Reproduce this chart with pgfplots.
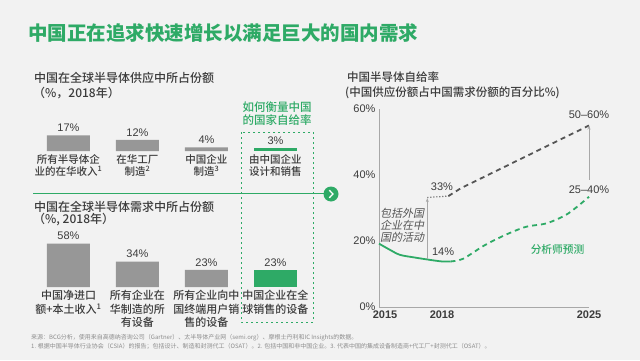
\documentclass[border=0pt]{standalone}
\usepackage{fontspec}
\usepackage{pgfplots}
\pgfplotsset{compat=1.18}
\usetikzlibrary{arrows.meta}
\setmainfont{Noto Sans CJK SC}
\newfontfamily\lat{Liberation Sans}
\newfontfamily\med{Noto Sans CJK SC Medium}
\newfontfamily\cjkit[FakeSlant=0.2]{Noto Sans CJK SC}
\definecolor{bg}{HTML}{F2F2F2}
\definecolor{grn}{HTML}{2EAA66}
\definecolor{bargray}{HTML}{979797}
\definecolor{txt}{HTML}{3C3C3C}
\definecolor{axgray}{HTML}{A8A8A8}
\definecolor{dgray}{HTML}{555555}
\definecolor{fgray}{HTML}{8C8C8C}

\begin{document}
\begin{tikzpicture}[x=1pt,y=1pt]
\fill[bg] (0,0) rectangle (640,360);
% main title
\node[anchor=west, text=grn, font=\fontsize{19.5}{22}\selectfont\bfseries, inner sep=0] at (28,327) {中国正在追求快速增长以满足巨大的国内需求};
% left titles
\node[anchor=west,inner sep=0,text=txt,font=\med\fontsize{12}{14}\selectfont] at (34,282) {中国在全球半导体供应中所占份额};
\node[anchor=west,inner sep=0,text=txt,font=\med\fontsize{12}{14}\selectfont] at (33,267) {（\%，2018年）};
\node[anchor=west,inner sep=0,text=txt,font=\med\fontsize{12}{14}\selectfont] at (34,153) {中国在全球半导体需求中所占份额};
\node[anchor=west,inner sep=0,text=txt,font=\med\fontsize{12}{14}\selectfont] at (33,140) {（\%, 2018年）};
% green note
\node[text=grn,font=\med\fontsize{11.5}{13}\selectfont,align=center,inner sep=0] at (277,246.5) {如何衡量中国\\的国家自给率};
\draw[grn, dash pattern=on 2pt off 3pt, line width=0.8pt] (241,228) rectangle (313,38);
% separator
\draw[grn, line width=0.9pt] (33,167) -- (324,167);
\fill[grn] (331,166) circle (7.5);
\draw[white, line width=1.3pt] (329.3,169.8) -- (333,166) -- (329.3,162.2);
% right titles
\node[anchor=west,inner sep=0,text=txt,font=\med\fontsize{11.5}{13}\selectfont] at (347,283) {中国半导体自给率};
\node[anchor=west,inner sep=0,text=txt,font=\med\fontsize{11.5}{13}\selectfont] at (345,267) {(中国供应份额占中国需求份额的百分比\%)};
% footnote
\node[anchor=west,inner sep=0,text=fgray,font=\fontsize{6}{7}\selectfont] at (31,22) {来源：BCG分析，使用来自高德纳咨询公司（Gartner）、太半导体产业网（semi.org）、摩根士丹利和IC Insights的数据。};
\node[anchor=west,inner sep=0,text=fgray,font=\fontsize{6}{7}\selectfont] at (31,14) {1. 根据中国半导体行业协会（CSIA）的报告；包括设计、制造和封测代工（OSAT）。2. 包括中国和非中国企业。3. 代表中国的集成设备制造商+代工厂+封测代工（OSAT）。};

% upper bar chart
\begin{axis}[at={(34pt,209pt)}, anchor=south west, scale only axis,
  width=276pt, height=18.4pt, xmin=0, xmax=4, ymin=0, ymax=20,
  enlargelimits=false, axis line style={draw=none}, ytick=\empty,
  xtick={0.5,1.5,2.5,3.5},
  xticklabels={{所有半导体企\\业的在华收入\textsuperscript{1}},{在华工厂\\制造\textsuperscript{2}},{中国企业\\制造\textsuperscript{3}},{由中国企业\\设计和销售}},
  xtick style={draw=none}, major tick length=0pt,
  xticklabel style={align=center, font=\med\fontsize{10.5}{11.7}\selectfont, text=txt},
  ybar, bar width=43pt,
  /pgf/number format/assume math mode=true,
  nodes near coords={\pgfmathprintnumber{\pgfplotspointmeta}\%},
  nodes near coords style={font=\lat\fontsize{11}{13}\selectfont, text=txt},
  clip=false]
\addplot[fill=bargray, draw=none, bar shift=0pt] coordinates {(0.5,17) (1.5,12) (2.5,4)};
\addplot[fill=grn, draw=none, bar shift=0pt] coordinates {(3.5,3)};
\end{axis}

% lower bar chart
\begin{axis}[at={(34pt,73pt)}, anchor=south west, scale only axis,
  width=276pt, height=45pt, xmin=0, xmax=4, ymin=0, ymax=60,
  enlargelimits=false, axis line style={draw=none}, ytick=\empty,
  xtick={0.5,1.5,2.5,3.5},
  xticklabels={{中国净进口\\额+本土收入\textsuperscript{1}},{所有企业在\\华制造的所\\有设备},{所有企业向中\\国终端用户销\\售的设备},{中国企业在全\\球销售的设备}},
  xtick style={draw=none}, major tick length=0pt,
  xticklabel style={align=center, font=\med\fontsize{11}{13.4}\selectfont, text=txt},
  ybar, bar width=43pt,
  /pgf/number format/assume math mode=true,
  nodes near coords={\pgfmathprintnumber{\pgfplotspointmeta}\%},
  nodes near coords style={font=\lat\fontsize{11}{13}\selectfont, text=txt},
  clip=false]
\addplot[fill=bargray, draw=none, bar shift=0pt] coordinates {(0.5,58) (1.5,34) (2.5,23)};
\addplot[fill=grn, draw=none, bar shift=0pt] coordinates {(3.5,23)};
\end{axis}

% right line chart
\begin{axis}[at={(379pt,53pt)}, anchor=south west, scale only axis,
  width=210pt, height=198pt, xmin=2015, xmax=2025, ymin=0, ymax=60,
  enlargelimits=false, axis lines=left,
  axis line style={-, draw=axgray, line width=0.9pt},
  xtick={2015,2018,2025}, xticklabels={{\hspace*{12pt}2015},2018,2025},
  ytick={0,20,40,60},
  yticklabel={\pgfmathprintnumber{\tick}\%},
  major tick length=0pt,
  /pgf/number format/assume math mode=true,
  xticklabel style={font=\lat\bfseries\fontsize{11}{13}\selectfont, text=txt},
  yticklabel style={font=\lat\fontsize{11}{13}\selectfont, text=txt},
  clip=false]
\addplot[grn, line width=1.8pt, smooth, tension=0.5] coordinates {(2015,19.2) (2015.5,17.4) (2016,15.8) (2016.7,15.0) (2017.3,14.4) (2018,13.8) (2018.4,13.8)};
\addplot[grn, line width=1.8pt, dash pattern=on 5pt off 4pt, smooth, tension=0.5] coordinates {(2018.4,13.8) (2019,14.6) (2020,18.6) (2021,21.8) (2022,24.3) (2023,25.4) (2024,28.3) (2025,33.4)};
\addplot[dgray, line width=1.2pt, dash pattern=on 1pt off 2pt] coordinates {(2017.3,33.2) (2018.3,33.6)};
\addplot[dgray, line width=1.8pt, dash pattern=on 5pt off 4pt] coordinates {(2018.3,33.6) (2018.9,36.0) (2025,55)};
\draw[-{Stealth[length=4pt,width=3pt]}, axgray, line width=0.7pt] (axis cs:2017.3,14.5) -- (axis cs:2017.3,33);
\draw[-{Stealth[length=4pt,width=3pt]}, axgray, line width=0.7pt] (axis cs:2025,38.5) -- (axis cs:2025,55);
\node[font=\lat\fontsize{11}{13}\selectfont, text=txt] at (axis cs:2018.05,16.7) {14\%};
\node[font=\lat\fontsize{11}{13}\selectfont, text=txt] at (axis cs:2018.0,36.4) {33\%};
\node[font=\lat\fontsize{11}{13}\selectfont, text=txt] at (axis cs:2025,58.2) {50–60\%};
\node[font=\lat\fontsize{11}{13}\selectfont, text=txt] at (axis cs:2025,35.5) {25–40\%};
\node[font=\med\fontsize{10.7}{12}\selectfont, text=grn] at (axis cs:2023.5,17.3) {分析师预测};
\node[font=\cjkit\fontsize{11}{12}\selectfont, text=dgray, align=center, inner sep=0] at (axis cs:2016.1,24.8) {包括外国\\企业在中\\国的活动};
\end{axis}
\end{tikzpicture}
\end{document}
